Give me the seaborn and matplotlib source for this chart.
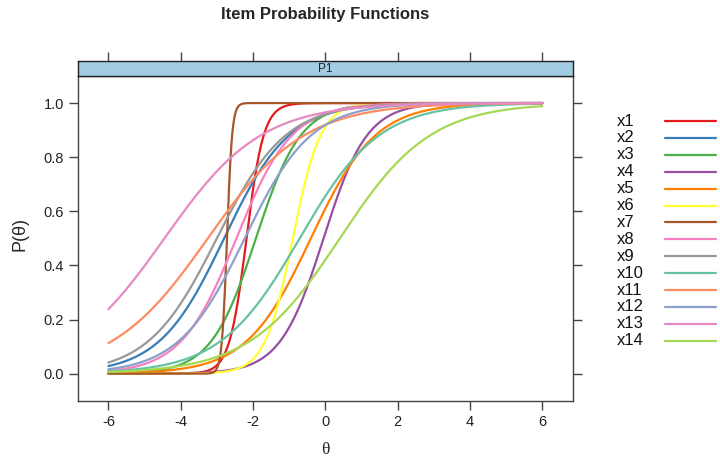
import numpy as np
import pandas as pd
import seaborn as sns
import matplotlib.pyplot as plt
from matplotlib.lines import Line2D

# ---- data: 2PL item parameters ----
items = ['x1', 'x2', 'x3', 'x4', 'x5', 'x6', 'x7', 'x8', 'x9', 'x10', 'x11', 'x12', 'x13', 'x14']
discrimination = [4.2, 1.11, 1.61, 1.66, 1.12, 2.6, 14.0, 1.3, 1.05, 0.91, 0.75, 1.09, 0.75, 0.8]
difficulty = [-2.18, -2.8, -1.92, -0.05, -0.4, -0.9, -2.72, -2.46, -3.0, -0.71, -3.25, -2.23, -4.45, 0.4]
colors = ['#E41A1C', '#377EB8', '#4DAF4A', '#984EA3', '#FF7F00', '#FFFF33', '#A65628',
          '#F781BF', '#999999', '#66C2A5', '#FC8D62', '#8DA0CB', '#E78AC3', '#A6D854']
x_ticks = [-6, -4, -2, 0, 2, 4, 6]
y_ticks = [0.0, 0.2, 0.4, 0.6, 0.8, 1.0]
panel_label = 'P1'

theta = np.linspace(-6, 6, 601)
frames = []
for it, a, b in zip(items, discrimination, difficulty):
    frames.append(pd.DataFrame({'theta': theta,
                                'P': 1.0 / (1.0 + np.exp(-a * (theta - b))),
                                'item': it}))
df = pd.concat(frames, ignore_index=True)

sns.set_theme(style='white')
plt.rcParams['font.family'] = ['Liberation Sans', 'DejaVu Sans']

W, H = 720, 461
fig = plt.figure(figsize=(7.2, 4.61), dpi=100)
fig.patch.set_facecolor('white')

L, R, T, B, ST = 78, 572.7, 76, 400.7, 61.3
ax = fig.add_axes([L / W, 1 - B / H, (R - L) / W, (B - T) / H])
sns.lineplot(data=df, x='theta', y='P', hue='item', hue_order=items,
             palette=dict(zip(items, colors)), linewidth=1.6, legend=False,
             errorbar=None, ax=ax)
ax.set_xlim(-6.84, 6.84)
ax.set_ylim(-0.1, 1.1)
ax.set_xticks(x_ticks)
ax.set_xticklabels([str(v) for v in x_ticks])
ax.set_yticks(y_ticks)
ax.set_yticklabels([f'{v:.1f}' for v in y_ticks])
spine_col = '#444444'
for s in ax.spines.values():
    s.set_visible(True)
    s.set_color(spine_col)
    s.set_linewidth(1.0)
ax.tick_params(axis='both', direction='out', length=6.5, width=1.0, color=spine_col,
               labelsize=10.5, labelcolor='#222222', pad=3.5)
ax.tick_params(axis='x', bottom=True, top=False)
ax.tick_params(axis='y', left=True, right=True, labelright=False)
ax.set_xlabel('θ', fontsize=12.5, family=['Liberation Serif', 'DejaVu Serif'])
ax.xaxis.label.set_va('center')
ax.xaxis.set_label_coords(0.5, -(450 - B) / (B - T))
ax.set_ylabel('P(θ)', fontsize=13)
ax.yaxis.label.set_va('center')
ax.yaxis.label.set_ha('center')
ax.yaxis.set_label_coords((20 - L) / (R - L), (B - 234) / (B - T))

# strip
sx = fig.add_axes([L / W, 1 - T / H, (R - L) / W, (T - ST) / H])
sx.set_facecolor('#A1CCE4')
sx.set_xlim(ax.get_xlim())
sx.set_ylim(0, 1)
sx.set_xticks(x_ticks)
sx.set_yticks([])
sx.tick_params(axis='x', top=True, bottom=False, labeltop=False, labelbottom=False,
               direction='out', length=6.5, width=1.0, color=spine_col)
for s in sx.spines.values():
    s.set_visible(True)
    s.set_color('#222222')
    s.set_linewidth(1.0)
sx.text(0.5, 0.5, panel_label, transform=sx.transAxes, ha='center', va='center',
        fontsize=8.5, color='#222222')

# title
fig.text((L + R) / 2 / W, 1 - 15 / H, 'Item Probability Functions', ha='center', va='center',
         fontsize=12, fontweight='bold')

# key
for i, (it, c) in enumerate(zip(items, colors)):
    yp = 121 + i * 16.9
    fig.text(617 / W, 1 - yp / H, it, ha='left', va='center', fontsize=12, color='#111111')
    fig.add_artist(Line2D([665 / W, 716 / W], [1 - yp / H, 1 - yp / H],
                          transform=fig.transFigure, color=c, linewidth=1.6))

fig.savefig('out.png', dpi=100)
